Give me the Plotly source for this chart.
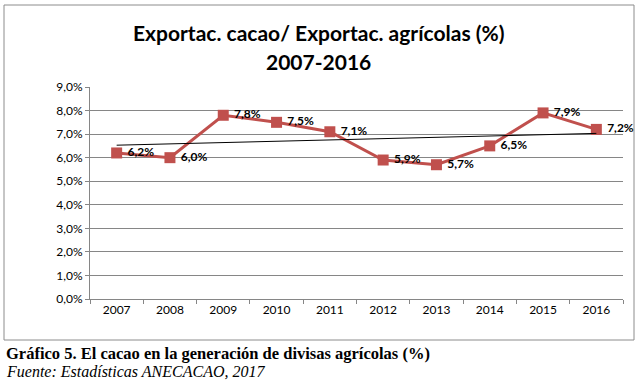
import numpy as np
import plotly.graph_objects as go

years = ["2007", "2008", "2009", "2010", "2011", "2012", "2013", "2014", "2015", "2016"]
values = [6.2, 6.0, 7.8, 7.5, 7.1, 5.9, 5.7, 6.5, 7.9, 7.2]
labels = ["6,2%", "6,0%", "7,8%", "7,5%", "7,1%", "5,9%", "5,7%", "6,5%", "7,9%", "7,2%"]
ytick_vals = [0, 1, 2, 3, 4, 5, 6, 7, 8, 9]
ytick_text = ["0,0%", "1,0%", "2,0%", "3,0%", "4,0%", "5,0%", "6,0%", "7,0%", "8,0%", "9,0%"]

# linear trend (least squares on the series)
idx = np.arange(len(values))
slope, intercept = np.polyfit(idx, values, 1)
trend = slope * idx + intercept

W, H = 639, 384
L, R, T, B = 90, 16, 87, 85
pw, ph = W - L - R, H - T - B

def px_x(x):
    return (x - L) / pw

def px_y(y):
    return (H - B - y) / ph

fig = go.Figure()
fig.add_trace(go.Scatter(
    x=years, y=values, mode="lines+markers+text",
    line=dict(color="#C0504D", width=3),
    marker=dict(symbol="square", size=11, color="#C0504D"),
    text=["<b> " + t + "</b>" for t in labels], textposition="middle right",
    textfont=dict(family="Lato", size=12, color="#000000"),
    cliponaxis=False, showlegend=False, hoverinfo="skip",
))
fig.add_trace(go.Scatter(
    x=years, y=trend, mode="lines",
    line=dict(color="#000000", width=1),
    showlegend=False, hoverinfo="skip",
))

fig.update_layout(
    width=W, height=H,
    margin=dict(l=L, r=R, t=T, b=B),
    paper_bgcolor="white", plot_bgcolor="white",
    font=dict(family="Lato", color="#000000"),
    xaxis=dict(
        type="category", range=[-0.5, 9.5], showgrid=False,
        showline=True, linecolor="#868686", linewidth=1,
        ticks="outside", tickson="boundaries", ticklen=4, tickcolor="#868686",
        tickfont=dict(family="Lato", size=12, color="#000000"),
        zeroline=False, fixedrange=True,
    ),
    yaxis=dict(
        range=[0, 9], tickvals=ytick_vals, ticktext=ytick_text,
        showgrid=True, gridcolor="#868686", gridwidth=1,
        showline=True, linecolor="#868686", linewidth=1,
        ticks="outside", ticklen=4, tickcolor="#868686",
        tickfont=dict(family="Lato", size=12, color="#000000"),
        zeroline=False, fixedrange=True,
    ),
    shapes=[dict(
        type="rect", xref="paper", yref="paper",
        x0=px_x(4), x1=px_x(634), y0=px_y(340), y1=px_y(5),
        line=dict(color="#8C8C8C", width=1), fillcolor="rgba(0,0,0,0)", layer="below",
    )],
    annotations=[
        dict(text="<b>Exportac. cacao/ Exportac. agrícolas (%)</b>", xref="paper", yref="paper",
             x=px_x(318), y=px_y(33), xanchor="center", yanchor="middle", showarrow=False,
             font=dict(family="Lato", size=21, color="#000000")),
        dict(text="<b>2007-2016</b>", xref="paper", yref="paper",
             x=px_x(318), y=px_y(62), xanchor="center", yanchor="middle", showarrow=False,
             font=dict(family="Lato", size=21, color="#000000")),
        dict(text="<b>Gráfico 5. El cacao en la generación de divisas agrícolas (%)</b>",
             xref="paper", yref="paper", x=px_x(4), y=px_y(353), xanchor="left", yanchor="middle",
             showarrow=False, font=dict(family="Liberation Serif", size=16.5, color="#000000")),
        dict(text="<i>Fuente: Estadísticas ANECACAO, 2017</i>",
             xref="paper", yref="paper", x=px_x(4), y=px_y(371), xanchor="left", yanchor="middle",
             showarrow=False, font=dict(family="Liberation Serif", size=16, color="#000000")),
    ],
)

fig.write_html("out.html", config={"displayModeBar": False},
               post_script="document.body.style.margin='0';document.body.style.overflow='hidden';")
